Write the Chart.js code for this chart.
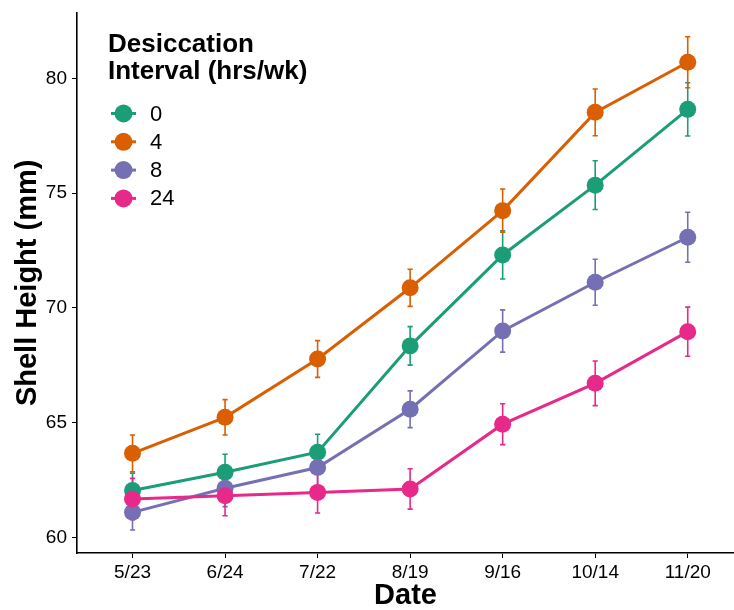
<!DOCTYPE html>
<html>
<head>
<meta charset="utf-8">
<script src="https://cdn.jsdelivr.net/npm/chart.js@4/dist/chart.umd.min.js"></script>
<style>
  body { margin: 0; background: #fff; overflow: hidden; }
  #graficoConcha { display: block; }
</style>
</head>
<body>
<canvas id="graficoConcha" width="734" height="610"></canvas>
<script>
// collection dates
var datas = ['5/23', '6/24', '7/22', '8/19', '9/16', '10/14', '11/20'];

// mean shell height (mm) per desiccation treatment
var altura0 = [62.05, 62.85, 63.72, 68.35, 72.31, 75.35, 78.65];
var altura4 = [63.67, 65.24, 67.78, 70.88, 74.24, 78.52, 80.70];
var altura8 = [61.10, 62.15, 63.05, 65.59, 69.00, 71.12, 73.08];
var altura24 = [61.68, 61.82, 61.97, 62.12, 64.94, 66.72, 68.97];

// standard error for each mean
var erro0 = [0.76, 0.78, 0.78, 0.84, 1.05, 1.06, 1.16];
var erro4 = [0.80, 0.77, 0.80, 0.81, 0.94, 1.02, 1.11];
var erro8 = [0.77, 0.80, 0.80, 0.80, 0.92, 1.00, 1.09];
var erro24 = [0.90, 0.87, 0.90, 0.88, 0.89, 0.97, 1.07];

var tratamentos = ['0', '4', '8', '24'];
var cores = ['#1B9E77', '#D95F02', '#7570B3', '#E7298A'];
var ticksY = [60, 65, 70, 75, 80];

var fonte = "'Liberation Sans', Arial, Helvetica, sans-serif";

function pontos(valores) {
    return valores.map(function (v, i) { return { x: i, y: v }; });
}

function serie(i, valores, erros) {
    return {
        label: tratamentos[i],
        data: pontos(valores),
        erros: erros,
        borderColor: cores[i],
        backgroundColor: cores[i],
        borderWidth: 3,
        pointRadius: 8.5,
        pointBorderWidth: 0,
        pointHoverRadius: 8.5,
        tension: 0,
        order: 4 - i // later groups sit on top
    };
}

// vertical error bars with small caps, drawn under the lines
const barrasErro = {
    id: 'barrasErro',
    beforeDatasetsDraw(chart) {
        const ctx = chart.ctx;
        const escalaX = chart.scales.x;
        const escalaY = chart.scales.y;
        chart.data.datasets.forEach(function (ds) {
            ctx.save();
            ctx.strokeStyle = ds.borderColor;
            ctx.lineWidth = 1.6;
            ds.data.forEach(function (p, j) {
                const x = escalaX.getPixelForValue(p.x);
                const topo = escalaY.getPixelForValue(p.y + ds.erros[j]);
                const base = escalaY.getPixelForValue(p.y - ds.erros[j]);
                ctx.beginPath();
                ctx.moveTo(x, topo);
                ctx.lineTo(x, base);
                ctx.moveTo(x - 2.6, topo);
                ctx.lineTo(x + 2.6, topo);
                ctx.moveTo(x - 2.6, base);
                ctx.lineTo(x + 2.6, base);
                ctx.stroke();
            });
            ctx.restore();
        });
    }
};

// legend inside the panel, top left
const legendaDentro = {
    id: 'legendaDentro',
    afterDraw(chart) {
        const ctx = chart.ctx;
        ctx.save();
        ctx.fillStyle = '#000';
        ctx.textAlign = 'left';
        ctx.textBaseline = 'alphabetic';
        ctx.font = 'bold 26px ' + fonte;
        ctx.fillText('Desiccation', 108, 52);
        ctx.fillText('Interval (hrs/wk)', 108, 79);

        ctx.font = '22px ' + fonte;
        ctx.textBaseline = 'middle';
        tratamentos.forEach(function (t, i) {
            const y = 113.5 + i * 28.3;
            ctx.strokeStyle = cores[i];
            ctx.lineWidth = 3;
            ctx.beginPath();
            ctx.moveTo(111, y);
            ctx.lineTo(136, y);
            ctx.stroke();
            ctx.fillStyle = cores[i];
            ctx.beginPath();
            ctx.arc(123.5, y, 9, 0, Math.PI * 2);
            ctx.fill();
            ctx.fillStyle = '#000';
            ctx.fillText(t, 150, y + 1);
        });
        ctx.restore();
    }
};

// fixed axis boxes, no extra label padding
function fixaY(s) {
    s.width = 77;
    s.paddingTop = 0;
    s.paddingBottom = 0;
}

function fixaX(s) {
    s.height = 57;
    s.paddingLeft = 0;
    s.paddingRight = 0;
}

const grafico = document.getElementById('graficoConcha');

new Chart(grafico, {
    type: 'line',
    data: {
        datasets: [
            serie(0, altura0, erro0),
            serie(1, altura4, erro4),
            serie(2, altura8, erro8),
            serie(3, altura24, erro24)
        ]
    },
    options: {
        responsive: false,
        devicePixelRatio: 1,
        animation: false,
        layout: {
            autoPadding: false,
            padding: { top: 12.7, right: 0, left: 0, bottom: 0 }
        },
        plugins: {
            legend: { display: false },
            tooltip: { enabled: false }
        },
        scales: {
            x: {
                type: 'linear',
                min: -0.6,
                max: 6.5,
                afterFit: fixaX,
                afterBuildTicks: function (s) {
                    s.ticks = datas.map(function (d, i) { return { value: i }; });
                },
                ticks: {
                    color: '#000',
                    padding: 3,
                    font: { family: fonte, size: 19 },
                    callback: function (v) { return datas[v]; }
                },
                grid: {
                    display: true,
                    drawOnChartArea: false,
                    drawTicks: true,
                    tickLength: 5,
                    color: '#000',
                    lineWidth: 1
                },
                border: { display: true, color: '#000', width: 1.6 },
                title: {
                    display: true,
                    text: 'Date',
                    color: '#000',
                    font: { family: fonte, size: 29, weight: 'bold', lineHeight: 1 },
                    padding: { top: 0, bottom: 0 }
                }
            },
            y: {
                type: 'linear',
                min: 59.33,
                max: 82.86,
                afterFit: fixaY,
                afterBuildTicks: function (s) {
                    s.ticks = ticksY.map(function (v) { return { value: v }; });
                },
                ticks: {
                    color: '#000',
                    padding: 5,
                    font: { family: fonte, size: 19 }
                },
                grid: {
                    display: true,
                    drawOnChartArea: false,
                    drawTicks: true,
                    tickLength: 5,
                    color: '#000',
                    lineWidth: 1
                },
                border: { display: true, color: '#000', width: 1.6 },
                title: {
                    display: true,
                    text: 'Shell Height (mm)',
                    color: '#000',
                    font: { family: fonte, size: 29, weight: 'bold', lineHeight: 1 },
                    padding: { top: 13, bottom: 0 }
                }
            }
        }
    },
    plugins: [barrasErro, legendaDentro]
});
</script>
</body>
</html>
